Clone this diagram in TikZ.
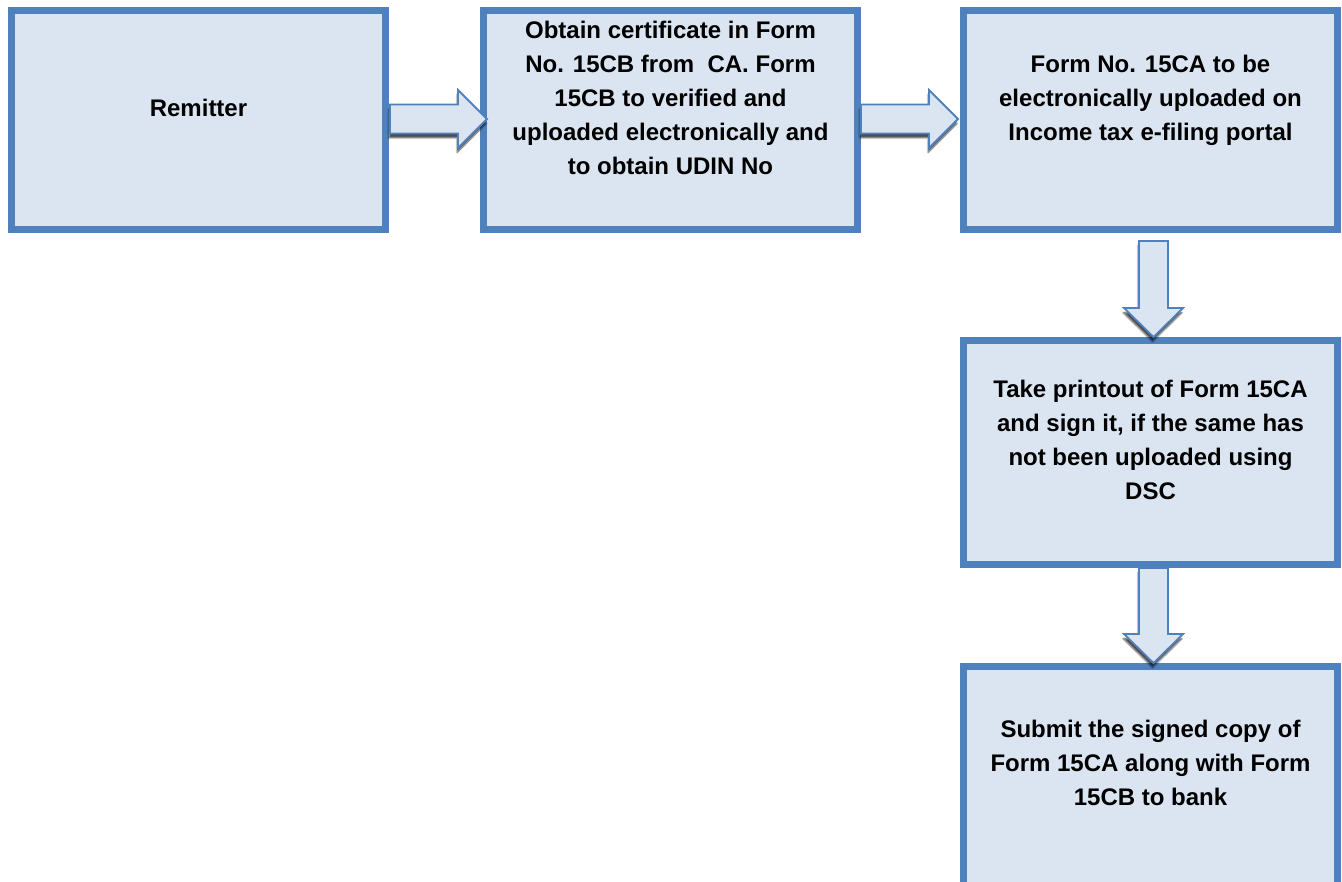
\documentclass[tikz,border=0pt]{standalone}
\usepackage{fontspec}
\setmainfont{Liberation Sans}
\usetikzlibrary{calc,shadows.blur}
\definecolor{boxfill}{RGB}{219,229,241}
\definecolor{boxedge}{RGB}{79,129,189}
\begin{document}
\begin{tikzpicture}[x=1pt,y=-1pt,
  stepbox/.style={draw=boxedge, line width=7pt, fill=boxfill, line join=miter,
    minimum width=374pt, inner sep=0pt},
  steptext/.style={align=center, inner sep=0pt,
    font=\fontsize{24}{34}\selectfont\bfseries},
  arrowbody/.style={draw=boxedge, line width=1.8pt, fill=boxfill, line join=miter,
    blur shadow={shadow xshift=-1pt, shadow yshift=-4.5pt, shadow blur steps=5,
      shadow blur radius=1.5pt, shadow opacity=70}},
  pics/rightarrow/.style={code={
    \path[arrowbody] (0,-14.5) -- (#1-29,-14.5) -- (#1-29,-29) -- (#1,0)
      -- (#1-29,29) -- (#1-29,14.5) -- (0,14.5) -- cycle;}},
  pics/downarrow/.style={code={
    \path[arrowbody] (-14.5,0) -- (-14.5,#1-29) -- (-29.5,#1-29) -- (0,#1)
      -- (29.5,#1-29) -- (14.5,#1-29) -- (14.5,0) -- cycle;}},
]
\useasboundingbox (0,0) rectangle (1342,882);

% process boxes
\node[stepbox, minimum height=219pt] (b1) at (198.5,120) {};
\node[stepbox, minimum height=219pt] (b2) at (670.5,120) {};
\node[stepbox, minimum height=219pt] (b3) at (1150.5,120) {};
\node[stepbox, minimum height=224pt] (b4) at (1150.5,452.5) {};
\node[stepbox, minimum height=224pt] (b5) at (1150.5,778.5) {};

% box captions
\node[steptext] (t1) at ($(b1.center)+(0,-12)$) {Remitter};
\node[steptext] (t2) at ($(b2.center)+(0,-22.5)$) {Obtain certificate in Form\\No. 15CB from\ \ CA. Form\\15CB to verified and\\uploaded electronically and\\to obtain UDIN No};
\node[steptext] (t3) at ($(b3.center)+(0,-20)$) {Form No. 15CA to be\\electronically uploaded on\\Income tax e-filing portal};
\node[steptext] (t4) at ($(b4.center)+(0,-13)$) {Take printout of Form 15CA\\and sign it, if the same has\\not been uploaded using\\DSC};
\node[steptext] (t5) at ($(b5.center)+(0,-16)$) {Submit the signed copy of\\Form 15CA along with Form\\15CB to bank};

% block arrows between the steps
\pic at ($(b1.east)+(1,-1)$) {rightarrow=97};
\pic at ($(b2.east)+(0,-1)$) {rightarrow=97};
\pic at ($(b3.south)+(3,8)$) {downarrow=96};
\pic at ($(b4.south)+(3,0)$) {downarrow=95};
\end{tikzpicture}
\end{document}
